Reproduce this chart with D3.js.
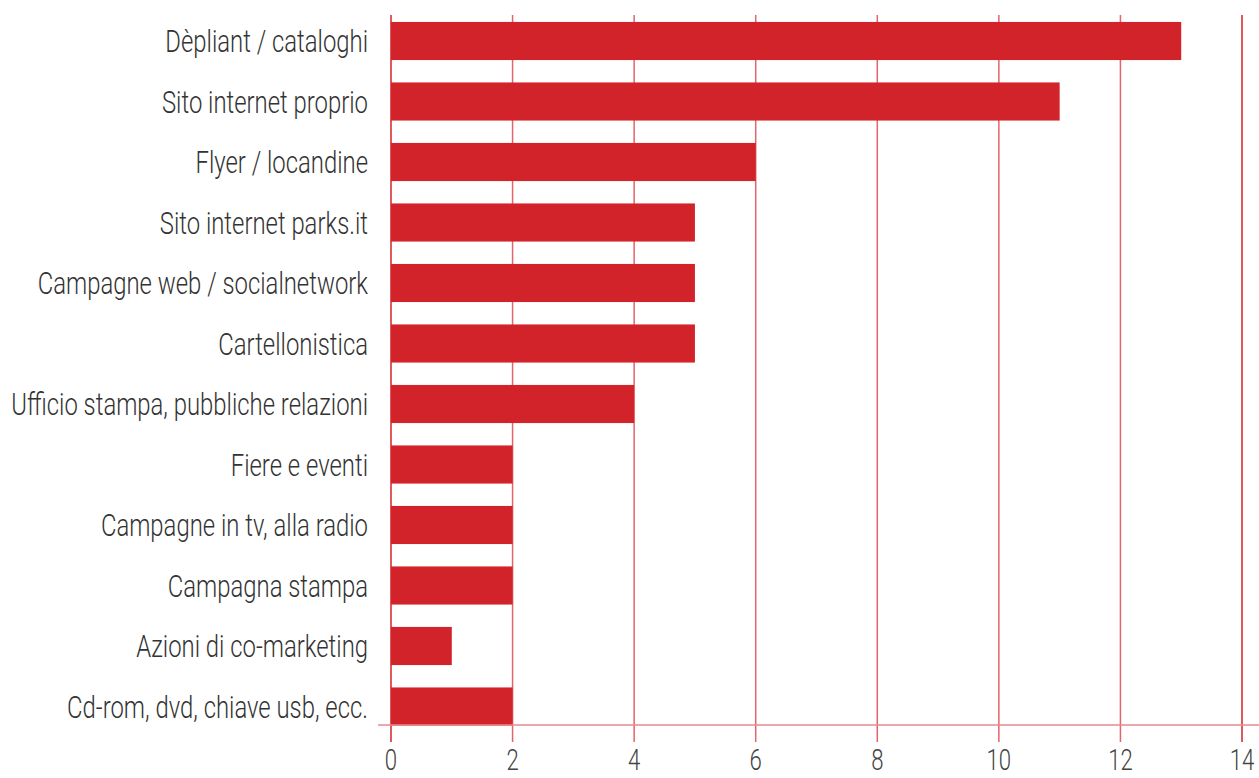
<!DOCTYPE html>
<html>
<head>
<meta charset="utf-8">
<script src="https://cdn.jsdelivr.net/npm/d3@7"></script>
<style>
  body { margin: 0; background: #fff; }
  svg { display: block; }
</style>
</head>
<body>
<svg id="drawing_region"></svg>
<script>
const categories = [
    "Dèpliant / cataloghi",
    "Sito internet proprio",
    "Flyer / locandine",
    "Sito internet parks.it",
    "Campagne web / socialnetwork",
    "Cartellonistica",
    "Ufficio stampa, pubbliche relazioni",
    "Fiere e eventi",
    "Campagne in tv, alla radio",
    "Campagna stampa",
    "Azioni di co-marketing",
    "Cd-rom, dvd, chiave usb, ecc."
];
const values = [13, 11, 6, 5, 5, 5, 4, 2, 2, 2, 1, 2];
const tickValues = [0, 2, 4, 6, 8, 10, 12, 14];

const width = 1259, height = 778;
const red = '#d2232a';
const squeeze = 0.77;

const svg = d3.select('#drawing_region')
    .attr('width', width)
    .attr('height', height);

const x = d3.scaleLinear()
    .domain([0, 14])
    .range([391, 1242]);

const y = d3.scaleBand()
    .domain(categories)
    .range([10.75, 736.75])
    .paddingInner(0.37)
    .paddingOuter(0.185);

// vertical grid lines (they run past the axis as ticks)
svg.append('g')
    .selectAll('line')
    .data(tickValues)
    .enter()
    .append('line')
    .attr('x1', d => x(d))
    .attr('x2', d => x(d))
    .attr('y1', 15)
    .attr('y2', 742)
    .attr('stroke', d => (d === 0 || d === 14) ? red : '#e3646b')
    .attr('stroke-width', 1.5);

// bars
svg.append('g')
    .selectAll('rect')
    .data(values)
    .enter()
    .append('rect')
    .attr('x', x(0))
    .attr('y', (d, i) => y(categories[i]))
    .attr('width', d => x(d) - x(0))
    .attr('height', y.bandwidth())
    .attr('fill', red);

// axis line
svg.append('line')
    .attr('x1', 378)
    .attr('x2', width)
    .attr('y1', 725)
    .attr('y2', 725)
    .attr('stroke', '#e48a90')
    .attr('stroke-width', 1.5);

// category labels
svg.append('g')
    .selectAll('text')
    .data(categories)
    .enter()
    .append('text')
    .attr('transform', d => `translate(368, ${y(d) + y.bandwidth() / 2}) scale(${squeeze}, 1)`)
    .attr('dy', '0.36em')
    .attr('text-anchor', 'end')
    .style('font-family', 'Roboto, sans-serif')
    .style('font-weight', 300)
    .style('font-size', '31px')
    .attr('fill', '#333')
    .text(d => d);

// tick labels
svg.append('g')
    .selectAll('text')
    .data(tickValues)
    .enter()
    .append('text')
    .attr('transform', d => `translate(${x(d)}, 770) scale(0.74, 1)`)
    .attr('text-anchor', 'middle')
    .style('font-family', 'Roboto, sans-serif')
    .style('font-weight', 300)
    .style('font-size', '30px')
    .attr('fill', '#444')
    .text(d => d);
</script>
</body>
</html>
